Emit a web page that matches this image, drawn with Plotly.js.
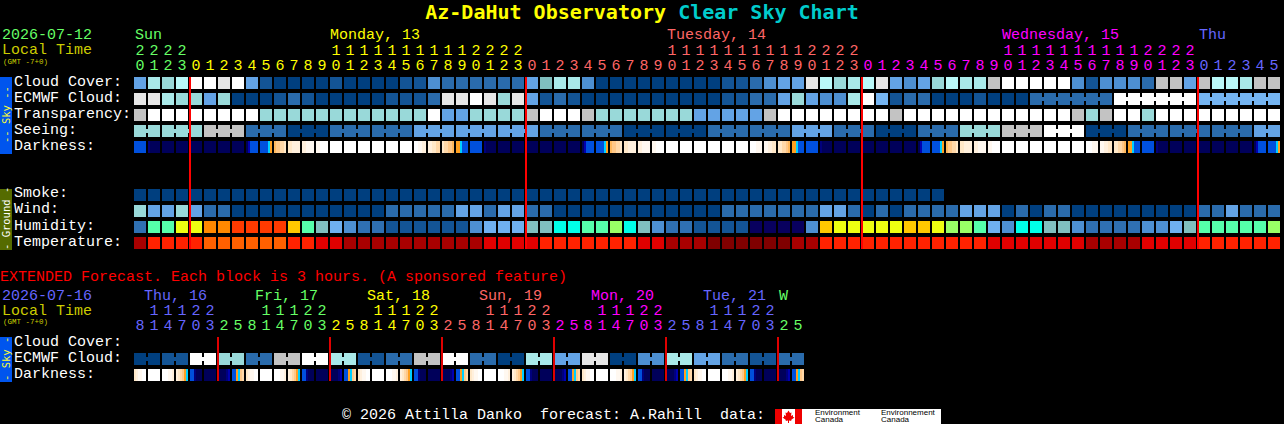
<!DOCTYPE html>
<html>
<head>
<meta charset="utf-8">
<script src="https://cdn.plot.ly/plotly-3.0.1.min.js"></script>
<style>html,body{margin:0;padding:0;background:#000;overflow:hidden}#chart{width:1284px;height:424px}</style>
</head>
<body>
<div id="chart"></div>
<script>
// ---- block values (sky scale level 0..12), one per hour
const cloudCover = [4,8,7,9,12,12,11,12,4,1,0,0,0,0,1,0,0,0,0,1,1,3,2,2,2,2,2,2,4,6,8,8,3,0,0,0,0,0,0,0,0,0,1,1,2,3,4,4,11,9,7,8,9,11,4,3,4,7,9,8,8,10,12,12,12,12,12,3,1,3,3,3,2,10,10,4,10,9,9,8,10,10];
const ecmwfCloud = [11,11,8,7,7,4,7,0,0,0,1,2,1,0,0,0,0,0,1,1,1,2,11,11,12,11,7,11,4,1,2,1,0,0,0,0,0,0,0,0,0,0,1,1,2,2,4,7,4,3,3,8,12,5,1,2,2,0,0,0,1,0,0,0,2,2,2,2,2,2,12,12,12,12,12,12,5,5,5,5,5,5];
const transparency = [10,12,12,12,12,12,12,12,12,7,7,7,7,7,7,7,7,7,7,7,7,12,4,4,7,7,7,7,10,12,12,12,10,7,7,7,7,7,7,7,4,4,4,4,4,10,12,12,12,12,12,12,12,12,10,12,12,12,12,12,12,12,12,12,12,12,12,10,7,10,12,12,7,12,12,12,12,12,12,12,12,12];
const seeing = [7,7,7,7,7,10,10,10,2,2,2,0,0,0,2,2,2,2,2,2,4,4,4,4,4,4,4,4,4,2,2,2,2,2,2,0,0,0,0,0,0,2,2,2,2,2,2,4,4,4,2,2,2,0,0,0,2,2,2,7,7,7,10,10,10,12,12,12,0,0,0,2,2,2,2,2,2,2,2,2,4,4];
const smoke = [0,0,0,0,0,0,0,0,0,0,0,0,0,0,0,0,0,0,0,0,0,0,0,0,0,0,0,0,0,0,0,0,0,0,0,0,0,0,0,0,0,0,0,0,0,0,0,0,0,0,0,0,0,0,0,0,0,0];
const wind = [7,4,4,7,4,2,2,0,0,0,0,0,0,0,0,0,0,0,2,2,2,2,2,4,4,2,4,4,2,2,0,0,0,0,0,0,0,0,0,0,0,0,2,2,2,2,2,2,2,4,4,2,0,2,0,2,2,2,2,4,4,4,0,2,0,2,2,0,0,0,0,0,0,0,0,0,2,2,4,2,2,2];
const humidity = [2,7,7,9,9,11,11,12,12,12,12,10,7,5,4,3,2,2,1,1,1,1,1,1,3,4,4,4,5,5,6,6,7,7,8,6,5,3,2,2,1,1,1,1,0,0,0,0,3,10,9,9,9,9,9,10,10,9,8,8,7,4,3,6,6,5,5,3,2,2,2,2,3,3,4,5,7,7,7,7,7,8];
const temperature = [1,3,3,3,3,4,4,4,4,4,4,3,3,2,2,1,1,1,1,1,1,1,1,1,1,2,2,2,2,3,3,3,3,3,3,3,2,2,1,1,1,0,0,0,0,0,0,1,1,3,3,3,3,3,3,3,3,3,3,3,3,2,2,2,2,2,2,2,1,1,1,1,2,2,2,2,3,3,3,3,3,3];
const extEcmwf = [0,0,1,1,12,12,7,7,2,2,10,10,12,12,8,8,1,1,2,2,10,10,12,12,2,2,0,0,8,8,4,4,11,11,0,0,3,3,8,8,4,4,2,2,1,1,2,2];

// ---- darkness: shade codes across each block (left to right)
const darkness = ["bbbbbb","onnnnn","nnnnnn","nnnnnn","nnnnnn","nnnnnn","nnnnnn","nnnnnn","npbbbb","bbbbcy","122334","445555","556666","66wwww","wwwwww","wwwwww","wwwwww","wwwwww","wwwwww","wwwwww","ww6655","554433","433221","yycbbb",
"bbbbbb","onnnnn","nnnnnn","nnnnnn","nnnnnn","nnnnnn","nnnnnn","nnnnnn","npbbbb","bbbbcy","122334","445555","556666","66wwww","wwwwww","wwwwww","wwwwww","wwwwww","wwwwww","wwwwww","www666","665544","443321","yycbbb",
"bbbbbb","onnnnn","nnnnnn","nnnnnn","nnnnnn","nnnnnn","nnnnnn","nnnnnn","npbbbb","bbbbcy","122334","445555","556666","66wwww","wwwwww","wwwwww","wwwwww","wwwwww","wwwwww","wwwwww","www666","665544","443321","yycbbb","bbbbbb",
"onnnnn","nnnnnn","nnnnnn","nnnnnn","nnnnnn","nnnnnn","nnnnnn","npbbbb","bbbbcy"];
const extDarkness = ["4566ww","wwwwww","www665","5432yc","bbonnn","nnnnnn","nnnnop","bbyc23",
"4566ww","wwwwww","www665","5432yc","bbonnn","nnnnnn","nnnnop","bbyc23",
"4566ww","wwwwww","www665","5432yc","bbonnn","nnnnnn","nnnnop","bbyc23",
"4566ww","wwwwww","www665","5432yc","bbonnn","nnnnnn","nnnnop","bbyc23",
"4566ww","wwwwww","www665","5432yc","bbonnn","nnnnnn","nnnnop","bbyc23",
"4566ww","wwwwww","www665","5432yc","bbonnn","nnnnnn","nnnnop","bbyc23"];

// ---- tick labels
const hoursMain = [20,21,22,23,0,1,2,3,4,5,6,7,8,9,10,11,12,13,14,15,16,17,18,19,20,21,22,23,0,1,2,3,4,5,6,7,8,9,10,11,12,13,14,15,16,17,18,19,20,21,22,23,0,1,2,3,4,5,6,7,8,9,10,11,12,13,14,15,16,17,18,19,20,21,22,23,0,1,2,3,4,5];
const hoursExt = [8,11,14,17,20,23,2,5,8,11,14,17,20,23,2,5,8,11,14,17,20,23,2,5,8,11,14,17,20,23,2,5,8,11,14,17,20,23,2,5,8,11,14,17,20,23,2,5];
const midnightsMain = [4,28,52,76];
const midnightsExt = [6,14,22,30,38,46];

// ---- colours
const skyScale = ["#003f7f","#135495","#2a6bac","#4d8fd1","#63a3e5","#75b5f2","#80bfbf","#99d9d9","#a9e9e9","#b9f9f9","#c3c3c3","#e6e6e6","#ffffff"];
const humidityScale = ["#08005e","#135495","#2f70b2","#4d8fd1","#6fb0f0","#80bfbf","#00ffe8","#55ffaa","#99ff66","#eeff11","#ffc800","#ff8800","#ff3a00"];
const tempScale = ["#800000","#a80000","#e00000","#ff2200","#ff6000"];
const darkCodes = {n:"#00005a",o:"#00007c",p:"#0000b0",b:"#0050dd",c:"#00d0ff",y:"#ffa020","1":"#ffb85c","2":"#ffc888","3":"#ffd8a8","4":"#ffe8c8","5":"#fff0dd","6":"#fff8f0",w:"#ffffff"};
const GREEN="#66ff66", YEL="#ffff00", SAL="#ff6666", MAG="#ff00ff", BLU="#6666ff";
const FONT="Liberation Mono";
const TITLEFONT="DejaVu Sans Mono";

// ---- build one categorical colour table
const darkKeys = Object.keys(darkCodes);
const allColors = skyScale.concat(humidityScale, tempScale, darkKeys.map(k=>darkCodes[k]));
const N = allColors.length;
const scale = [];
allColors.forEach((c,i)=>{scale.push([i/N,c]);scale.push([(i+1)/N,c]);});
const HUM = skyScale.length, TMP = HUM+humidityScale.length, DRK = TMP+tempScale.length;

// grid of sub cells: 7 across one block pitch, 4 down one row pitch
const COLS=82, ROWS=19, SX=7, SY=4;
const z=[];
for(let r=0;r<ROWS*SY;r++){z.push(new Array(COLS*SX).fill(null));}
function put(row,vals,off,joined){
  const r0=Math.round(row*SY);
  vals.forEach((v,i)=>{
    for(let sy=0;sy<3;sy++)for(let s=0;s<6;s++)z[r0+sy][i*SX+s]=v+off+.5;
    if(joined&&i+1<vals.length&&joined(i))z[r0+1][i*SX+6]=v+off+.5;
  });
}
function putShades(row,blocks){
  const r0=Math.round(row*SY);
  blocks.forEach((b,i)=>{
    for(let sy=0;sy<3;sy++)for(let s=0;s<6;s++)z[r0+sy][i*SX+s]=DRK+darkKeys.indexOf(b[s])+.5;
  });
}
put(0,cloudCover,0);
put(1,ecmwfCloud,0,i=>i>=64&&ecmwfCloud[i]===ecmwfCloud[i+1]);
put(2,transparency,0);
put(3,seeing,0,i=>i%3!==1);
putShades(4,darkness);
put(7,smoke,0);
put(8,wind,0);
put(9,humidity,HUM);
put(10,temperature,TMP);
put(17.25,extEcmwf,0,i=>i%2===0);
putShades(18.25,extDarkness);

// pixel helpers (x axis: blocks from x=134, pitch 14; y axis: rows from y=77, pitch 16)
const yOf=p=>(p-77)/16, xOf=p=>(p-134)/14;
const px=x=>x/1284, py=y=>1-y/424;

function dayColor(seq,i){return seq.find(d=>i<d[0])[1];}
const mainDays=[[4,GREEN],[28,YEL],[52,SAL],[76,MAG],[82,BLU]];
const extDays=[[6,BLU],[14,GREEN],[22,YEL],[30,SAL],[38,MAG],[46,BLU],[48,GREEN]];

function digitTrace(hours,days,pyTens,pyOnes){
  const n=hours.length,xs=[],ys=[],tx=[],cs=[];
  for(let i=0;i<n;i++){
    const c=dayColor(days,i);
    if(hours[i]>=10){xs.push(i+.43);ys.push(yOf(pyTens));tx.push(String(Math.floor(hours[i]/10)));cs.push(c);}
    xs.push(i+.43);ys.push(yOf(pyOnes));tx.push(String(hours[i]%10));cs.push(c);
  }
  return {type:'scatter',mode:'text',x:xs,y:ys,text:tx,textposition:'middle center',
    textfont:{family:FONT,size:15,color:cs},hoverinfo:'skip',showlegend:false,cliponaxis:false};
}
function redLines(cols,p0,p1,color){
  const xs=[],ys=[];
  cols.forEach(c=>{xs.push(c,c,null);ys.push(yOf(p0),yOf(p1),null);});
  return {type:'scatter',mode:'lines',x:xs,y:ys,line:{color:color,width:2},hoverinfo:'skip',showlegend:false};
}

const traces=[
  {type:'heatmap',z:z,x0:.5/SX,dx:1/SX,y0:.5/SY,dy:1/SY,zmin:0,zmax:N,colorscale:scale,showscale:false,hoverinfo:'skip',zsmooth:false,xgap:0,ygap:0},
  redLines(midnightsMain,77,249,'#ff0000'),
  redLines(midnightsExt,337,381,'#e00000'),
  digitTrace(hoursMain,mainDays,51,66),
  digitTrace(hoursExt,extDays,311,326)
];

function label(text,x,y,color,size,extra){
  return Object.assign({text:text,x:px(x),y:py(y),xref:'paper',yref:'paper',xanchor:'left',yanchor:'middle',
    showarrow:false,borderpad:0,borderwidth:0,font:{family:FONT,size:size||15,color:color||'#fff'}},extra||{});
}
const rowLabels=[["Cloud Cover:",82],["ECMWF Cloud:",98],["Transparency:",114],["Seeing:",130],["Darkness:",146],
  ["Smoke:",194],["Wind:",210],["Humidity:",226],["Temperature:",242],["Cloud Cover:",342],["ECMWF Cloud:",358],["Darkness:",374]];
const dayLabels=[["Sun",135,GREEN],["Monday, 13",330,YEL],["Tuesday, 14",667,SAL],["Wednesday, 15",1002,MAG],["Thu",1199,BLU]];
const extLabels=[["Thu, 16",144,BLU],["Fri, 17",255,GREEN],["Sat, 18",367,YEL],["Sun, 19",479,SAL],["Mon, 20",591,MAG],["Tue, 21",703,BLU],["W",779,GREEN]];

const annotations=[];
rowLabels.forEach(l=>annotations.push(label(l[0],14,l[1])));
dayLabels.forEach(l=>annotations.push(label(l[0],l[1],36,l[2])));
extLabels.forEach(l=>annotations.push(label(l[0],l[1],296,l[2])));
annotations.push(label("2026-07-12",2,36,GREEN),label("Local Time",2,51,"#cccc00"),label("(GMT -7+0)",3,62,"#cccc00",7.5));
annotations.push(label("EXTENDED Forecast. Each block is 3 hours. (A sponsored feature)",0,277,"#ff0000"));
annotations.push(label("2026-07-16",2,296,BLU),label("Local Time",2,311,"#cccc00"),label("(GMT -7+0)",3,322,"#cccc00",7.5));
annotations.push(label("\u00a9 2026 Attilla Danko  forecast: A.Rahill  data:",342,415.5,"#fff"));
function sideText(t,cy,c){return {text:t,x:px(6),y:py(cy),xref:'paper',yref:'paper',xanchor:'center',yanchor:'middle',textangle:-90,
  showarrow:false,borderpad:0,borderwidth:0,font:{family:"DejaVu Sans Mono",size:10.5,color:c}};}
annotations.push(sideText("-- Sky --",115,"#ffff33"),sideText("- Ground -",219,"#ffffff"),sideText("- Sky -",359,"#ffff33"));
[["Environment",815],["Environnement",881]].forEach(l=>annotations.push(label(l[0],l[1],412.5,"#000",8,{font:{family:"Liberation Sans",size:8,color:"#000"}})));
[["Canada",815],["Canada",881]].forEach(l=>annotations.push(label(l[0],l[1],419.5,"#000",8,{font:{family:"Liberation Sans",size:8,color:"#000"}})));

function rect(x0,y0,x1,y1,color){return {type:'rect',xref:'paper',yref:'paper',x0:px(x0),x1:px(x1),y0:py(y0),y1:py(y1),fillcolor:color,line:{width:0},layer:'below'};}
const leaf=[[788.5,410.5],[790,413],[791.5,412.5],[791,416],[793,415],[793,417],[794.5,417.5],[791,420],[791.5,421],[789,420.5],[789,423],[788,423],[788,420.5],[785.5,421],[786,420],[782.5,417.5],[784,417],[784,415],[786,416],[785.5,412.5],[787,413]];
const leafPath="M"+leaf.map(p=>px(p[0])+" "+py(p[1])).join("L")+"Z";
const shapes=[
  rect(0,77,12,154,"#0055ee"),rect(0,189,12,250,"#556b00"),rect(0,337,12,382,"#0055ee"),
  rect(775,409,941,424,"#ffffff"),rect(775,409,782,424,"#ee0000"),rect(795,409,802,424,"#ee0000"),
  {type:'path',path:leafPath,xref:'paper',yref:'paper',fillcolor:"#ee0000",line:{width:0},layer:'below'}
];

const layout={
  width:1284,height:424,margin:{l:0,r:0,t:0,b:0,pad:0},paper_bgcolor:'#000',plot_bgcolor:'rgba(0,0,0,0)',showlegend:false,
  title:{text:'Az-DaHut Observatory <span style="color:#00cccc">Clear Sky Chart</span>',
    font:{family:TITLEFONT,size:20,weight:'bold',color:'#ffff00'},x:.5,xanchor:'center',xref:'paper',y:py(12),yref:'paper',yanchor:'middle'},
  xaxis:{range:[xOf(0),xOf(1284)],visible:false,fixedrange:true},
  yaxis:{range:[yOf(424),yOf(0)],visible:false,fixedrange:true},
  shapes:shapes,annotations:annotations
};
Plotly.newPlot('chart',traces,layout,{displayModeBar:false,staticPlot:true});
</script>
</body>
</html>
